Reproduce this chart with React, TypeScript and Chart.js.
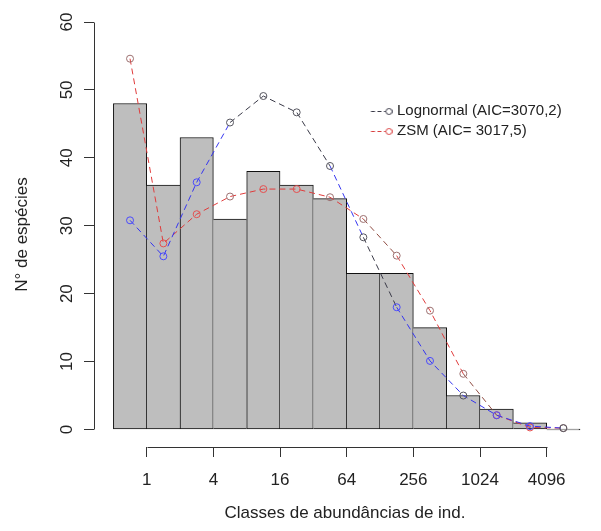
import React, { useEffect, useRef } from 'react';
import { Chart, registerables } from 'chart.js';

Chart.register(...registerables);

// ---- data ----
const binUpperLimits = [1, 2, 4, 8, 16, 32, 64, 128, 256, 512, 1024, 2048, 4096, 8192];
const speciesCounts = [48, 36, 43, 31, 38, 36, 34, 23, 23, 15, 5, 3, 1, 0];
const lognormalFit = [30.8, 25.5, 36.4, 45.2, 49.1, 46.7, 38.8, 28.3, 18.0, 10.1, 5.0, 2.1, 0.5, 0.2];
const zsmFit = [54.6, 27.4, 31.7, 34.3, 35.4, 35.4, 34.2, 31.0, 25.6, 17.5, 8.2, 2.1, 0.3, 0.2];
const xTickLabels = ['1', '4', '16', '64', '256', '1024', '4096'];
const yTickValues = [0, 10, 20, 30, 40, 50, 60];
const seriesLabels = ['Lognormal (AIC=3070,2)', 'ZSM (AIC= 3017,5)'];
const xTitle = 'Classes de abundâncias de ind.';
const yTitle = 'N° de espécies';

// ---- styles ----
const FONT = "'Liberation Sans', Arial, Helvetica, sans-serif";
const TEXT = '#222222';
const AXIS = '#333333';
const BAR_FILL = '#bebebe';
const BAR_EDGE = '#111111';
const LOG_IN = '#3535f0';
const LOG_OUT = '#3a3a48';
const LOG_PT_IN = '#4a4aff';
const LOG_PT_OUT = '#55555e';
const ZSM_IN = '#e03c3c';
const ZSM_OUT = '#8e4a40';
const ZSM_PT_IN = '#e65050';
const ZSM_PT_OUT = '#9c7070';

const binCenter = (i: number) => Math.log2(binUpperLimits[i]) - 0.5;
const toPoints = (vals: number[]) => vals.map((v, i) => ({ x: binCenter(i), y: v }));

const pointInside = (vals: number[], i: number) => vals[i] < speciesCounts[i];
const segInside = (vals: number[], i: number) => {
  const mid = (vals[i] + vals[i + 1]) / 2;
  return mid < Math.max(speciesCounts[i], speciesCounts[i + 1] ?? 0);
};

function legendSample(color: string) {
  const c = document.createElement('canvas');
  c.width = 28;
  c.height = 10;
  const g = c.getContext('2d')!;
  g.strokeStyle = color;
  g.lineWidth = 1;
  g.setLineDash([4, 2.5]);
  g.beginPath();
  g.moveTo(6.5, 5.5);
  g.lineTo(21, 5.5);
  g.stroke();
  g.setLineDash([]);
  g.beginPath();
  g.arc(24.5, 5.5, 3, 0, Math.PI * 2);
  g.stroke();
  return c;
}

const rAxesPlugin = {
  id: 'rAxes',
  afterDraw(chart: any) {
    const { ctx, chartArea, scales } = chart;
    const xs = scales.x;
    const ys = scales.y;
    ctx.save();
    ctx.strokeStyle = AXIS;
    ctx.lineWidth = 1;
    ctx.beginPath();
    const lx = Math.round(chartArea.left) + 0.5;
    ctx.moveTo(lx, Math.round(ys.getPixelForValue(yTickValues[0])) + 0.5);
    ctx.lineTo(lx, Math.round(ys.getPixelForValue(yTickValues[yTickValues.length - 1])) + 0.5);
    const ly = Math.round(chartArea.bottom) + 0.5;
    ctx.moveTo(Math.round(xs.getPixelForValue(Math.log2(Number(xTickLabels[0])))) + 0.5, ly);
    ctx.lineTo(Math.round(xs.getPixelForValue(Math.log2(Number(xTickLabels[xTickLabels.length - 1])))) + 0.5, ly);
    ctx.stroke();
    ctx.restore();
  },
};

const legendPlacer = {
  id: 'legendPlacer',
  afterLayout(chart: any) {
    const lg = chart.legend;
    if (lg) {
      lg.left = 362.5;
      lg.top = 98.5;
    }
  },
};

export default function App() {
  const ref = useRef<HTMLCanvasElement>(null);

  useEffect(() => {
    if (!ref.current) return;
    Chart.defaults.font.family = FONT;
    Chart.defaults.color = TEXT;
    const legendImgs = [legendSample(LOG_OUT), legendSample('#d84040')];
    const n = speciesCounts.length;

    const chart = new Chart(ref.current, {
      type: 'bar',
      data: {
        datasets: [
          {
            type: 'line',
            label: seriesLabels[0],
            data: toPoints(lognormalFit),
            borderColor: LOG_OUT,
            borderWidth: 1,
            borderDash: [6, 4],
            pointRadius: 3.5,
            pointBorderWidth: 1,
            pointBackgroundColor: 'rgba(0,0,0,0)',
            pointBorderColor: lognormalFit.map((_, i) => (pointInside(lognormalFit, i) ? LOG_PT_IN : LOG_PT_OUT)),
            segment: {
              borderColor: (c: any) => (segInside(lognormalFit, c.p0DataIndex) ? LOG_IN : LOG_OUT),
            },
            tension: 0,
            order: 1,
          } as any,
          {
            type: 'line',
            label: seriesLabels[1],
            data: toPoints(zsmFit),
            borderColor: ZSM_OUT,
            borderWidth: 1,
            borderDash: [6, 4],
            pointRadius: 3.5,
            pointBorderWidth: 1,
            pointBackgroundColor: 'rgba(0,0,0,0)',
            pointBorderColor: zsmFit.map((_, i) => (pointInside(zsmFit, i) ? ZSM_PT_IN : ZSM_PT_OUT)),
            segment: {
              borderColor: (c: any) => (segInside(zsmFit, c.p0DataIndex) ? ZSM_IN : ZSM_OUT),
            },
            tension: 0,
            order: 2,
          } as any,
          {
            type: 'bar',
            label: 'hist',
            data: toPoints(speciesCounts),
            backgroundColor: BAR_FILL,
            borderColor: BAR_EDGE,
            borderSkipped: false,
            minBarLength: 1,
            borderWidth: (c: any) => {
              const i = c.dataIndex;
              const h = speciesCounts[i];
              const prev = i > 0 ? speciesCounts[i - 1] : 0;
              const next = i < n - 1 ? speciesCounts[i + 1] : 0;
              return { top: 1, bottom: 1, left: h > prev ? 1 : 0, right: h >= next ? 1 : 0 };
            },
            barPercentage: 1,
            categoryPercentage: 1,
            order: 3,
          } as any,
        ],
      },
      options: {
        responsive: false,
        animation: false,
        layout: { padding: { top: 22, right: 2, left: 0, bottom: 0 } },
        scales: {
          x: {
            type: 'linear',
            offset: false,
            min: -1.581,
            max: 13.48,
            afterBuildTicks: (s: any) => {
              s.ticks = xTickLabels.map((l) => ({ value: Math.log2(Number(l)) }));
            },
            afterFit: (s: any) => {
              s.height = 84;
            },
            border: { display: false },
            grid: { offset: false, drawOnChartArea: false, drawTicks: true, tickLength: 10, color: AXIS, lineWidth: 1 },
            ticks: {
              callback: (_v: any, i: number) => xTickLabels[i],
              autoSkip: false,
              maxRotation: 0,
              padding: 13,
              color: TEXT,
              font: { size: 17 },
            },
            title: {
              display: true,
              text: xTitle,
              color: TEXT,
              font: { size: 17 },
              padding: { top: 0, bottom: 7 },
            },
          },
          y: {
            type: 'linear',
            min: -2.577,
            max: 60,
            afterBuildTicks: (s: any) => {
              s.ticks = yTickValues.map((v) => ({ value: v }));
            },
            afterFit: (s: any) => {
              s.width = 94;
            },
            border: { display: false },
            grid: { drawOnChartArea: false, drawTicks: true, tickLength: 10, color: AXIS, lineWidth: 1 },
            ticks: {
              minRotation: 90,
              maxRotation: 90,
              crossAlign: 'center',
              padding: 7,
              color: TEXT,
              font: { size: 17 },
            },
            title: {
              display: true,
              text: yTitle,
              color: TEXT,
              font: { size: 17 },
              padding: { top: 12, bottom: 0 },
            },
          },
        },
        plugins: {
          tooltip: { enabled: false },
          legend: {
            display: true,
            position: 'chartArea',
            align: 'start',
            labels: {
              usePointStyle: true,
              pointStyleWidth: 22,
              padding: 5,
              color: TEXT,
              font: { size: 15 },
              filter: (item: any) => item.datasetIndex < seriesLabels.length,
              generateLabels: (ch: any) =>
                (Chart.defaults.plugins.legend.labels.generateLabels as any)(ch).map((it: any) => ({
                  ...it,
                  pointStyle: legendImgs[it.datasetIndex] ?? it.pointStyle,
                  fontColor: TEXT,
                })),
            },
          },
        },
      } as any,
      plugins: [rAxesPlugin, legendPlacer],
    });
    return () => chart.destroy();
  }, []);

  return (
    <div style={{ position: 'fixed', left: 0, top: 0, width: 601, height: 531, background: '#fff' }}>
      <canvas ref={ref} width={601} height={531} style={{ display: 'block' }} />
    </div>
  );
}
